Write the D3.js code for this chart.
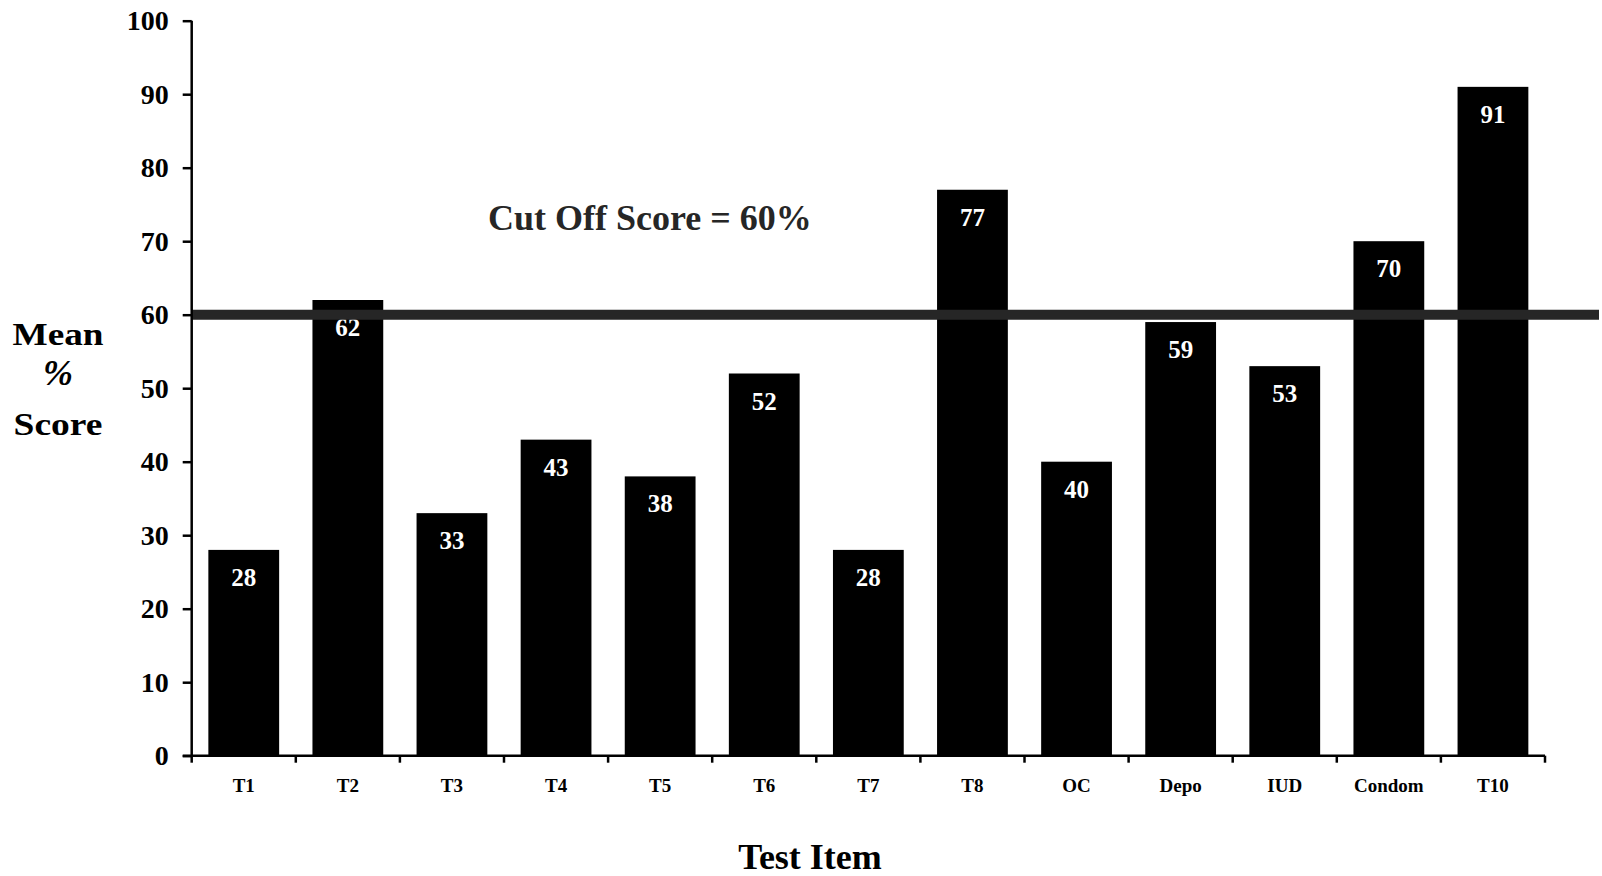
<!DOCTYPE html>
<html>
<head>
<meta charset="utf-8">
<script src="https://cdn.jsdelivr.net/npm/d3@7/dist/d3.min.js"></script>
<style>
  html, body { margin: 0; padding: 0; background: #fff; }
  svg { display: block; }
  text { font-family: "Liberation Serif", "Times New Roman", serif; font-weight: bold; }
</style>
</head>
<body>
<svg id="chart" width="1602" height="876"></svg>
<script>
// Test items and their mean % scores
const categories = ["T1", "T2", "T3", "T4", "T5", "T6", "T7", "T8", "OC", "Depo", "IUD", "Condom", "T10"];
const scores = [28, 62, 33, 43, 38, 52, 28, 77, 40, 59, 53, 70, 91];
const yTicks = [0, 10, 20, 30, 40, 50, 60, 70, 80, 90, 100];
const cutOff = 60;
const cutOffLabel = "Cut Off Score = 60%";
const yTitleLines = ["Mean", "%", "Score"];
const xTitle = "Test Item";

const svg = d3.select("#chart");
const plotLeft = 191.7, plotRight = 1545, plotTop = 20.7, plotBottom = 755.7;

const x = d3.scaleBand()
  .domain(categories)
  .range([plotLeft, plotRight])
  .paddingInner(0.32)
  .paddingOuter(0.16);

const y = d3.scaleLinear().domain([0, 100]).range([plotBottom, plotTop]);

const data = categories.map((c, i) => ({ cat: c, val: scores[i] }));

// Bars
svg.append("g").selectAll("rect")
  .data(data)
  .join("rect")
  .attr("x", d => x(d.cat))
  .attr("y", d => y(d.val))
  .attr("width", x.bandwidth())
  .attr("height", d => y(0) - y(d.val))
  .attr("fill", "#000");

// Value labels inside the bar tops
svg.append("g").selectAll("text")
  .data(data)
  .join("text")
  .attr("x", d => x(d.cat) + x.bandwidth() / 2)
  .attr("y", d => y(d.val) + 36)
  .attr("text-anchor", "middle")
  .attr("fill", "#fff")
  .attr("font-size", 25)
  .text(d => d.val);

// Cut-off line
svg.append("line")
  .attr("x1", plotLeft)
  .attr("x2", 1599)
  .attr("y1", y(cutOff))
  .attr("y2", y(cutOff))
  .attr("stroke", "#262626")
  .attr("stroke-width", 10);

svg.append("text")
  .attr("x", 488)
  .attr("y", 230)
  .attr("fill", "#262626")
  .attr("font-size", 36)
  .text(cutOffLabel);

// Y axis
const yAxis = d3.axisLeft(y)
  .tickValues(yTicks)
  .tickSize(9)
  .tickPadding(14)
  .tickFormat(d3.format("d"));

const gy = svg.append("g")
  .attr("transform", `translate(${plotLeft},0)`)
  .call(yAxis);
gy.select(".domain").attr("stroke", "#000").attr("stroke-width", 2.5).attr("d", `M0,${plotTop}V${plotBottom}`);
gy.selectAll(".tick line").attr("stroke", "#000").attr("stroke-width", 2.5);
gy.selectAll(".tick text")
  .attr("fill", "#000")
  .attr("font-size", 28)
  .attr("font-family", "Liberation Serif, Times New Roman, serif")
  .attr("font-weight", "bold");

// X axis: baseline with ticks at the category boundaries
const gx = svg.append("g");
gx.append("line")
  .attr("x1", plotLeft - 9)
  .attr("x2", plotRight)
  .attr("y1", y(0))
  .attr("y2", y(0))
  .attr("stroke", "#000")
  .attr("stroke-width", 2.5);

const boundaries = d3.range(categories.length + 1);
gx.selectAll("line.bt")
  .data(boundaries)
  .join("line")
  .attr("class", "bt")
  .attr("x1", i => plotLeft + i * x.step())
  .attr("x2", i => plotLeft + i * x.step())
  .attr("y1", y(0))
  .attr("y2", y(0) + 7)
  .attr("stroke", "#000")
  .attr("stroke-width", 2.5);

gx.selectAll("text")
  .data(categories)
  .join("text")
  .attr("x", d => x(d) + x.bandwidth() / 2)
  .attr("y", 792)
  .attr("text-anchor", "middle")
  .attr("fill", "#000")
  .attr("font-size", 19)
  .text(d => d);

// Axis titles (three stacked lines, the words drawn slightly wide)
const yTitleBaselines = [345, 385, 435];
const yTitleSizes = [31, 36, 31];
const yTitleWidths = [91, null, 89];
svg.append("g").selectAll("text")
  .data(yTitleLines)
  .join("text")
  .attr("x", 58)
  .attr("y", (d, i) => yTitleBaselines[i])
  .attr("text-anchor", "middle")
  .attr("fill", "#000")
  .attr("font-size", (d, i) => yTitleSizes[i])
  .attr("font-style", (d, i) => yTitleWidths[i] ? null : "italic")
  .attr("font-weight", (d, i) => yTitleWidths[i] ? "bold" : "normal")
  .attr("textLength", (d, i) => yTitleWidths[i])
  .attr("lengthAdjust", "spacingAndGlyphs")
  .text(d => d);

svg.append("text")
  .attr("x", 810)
  .attr("y", 869)
  .attr("text-anchor", "middle")
  .attr("fill", "#000")
  .attr("font-size", 36)
  .text(xTitle);
</script>
</body>
</html>
